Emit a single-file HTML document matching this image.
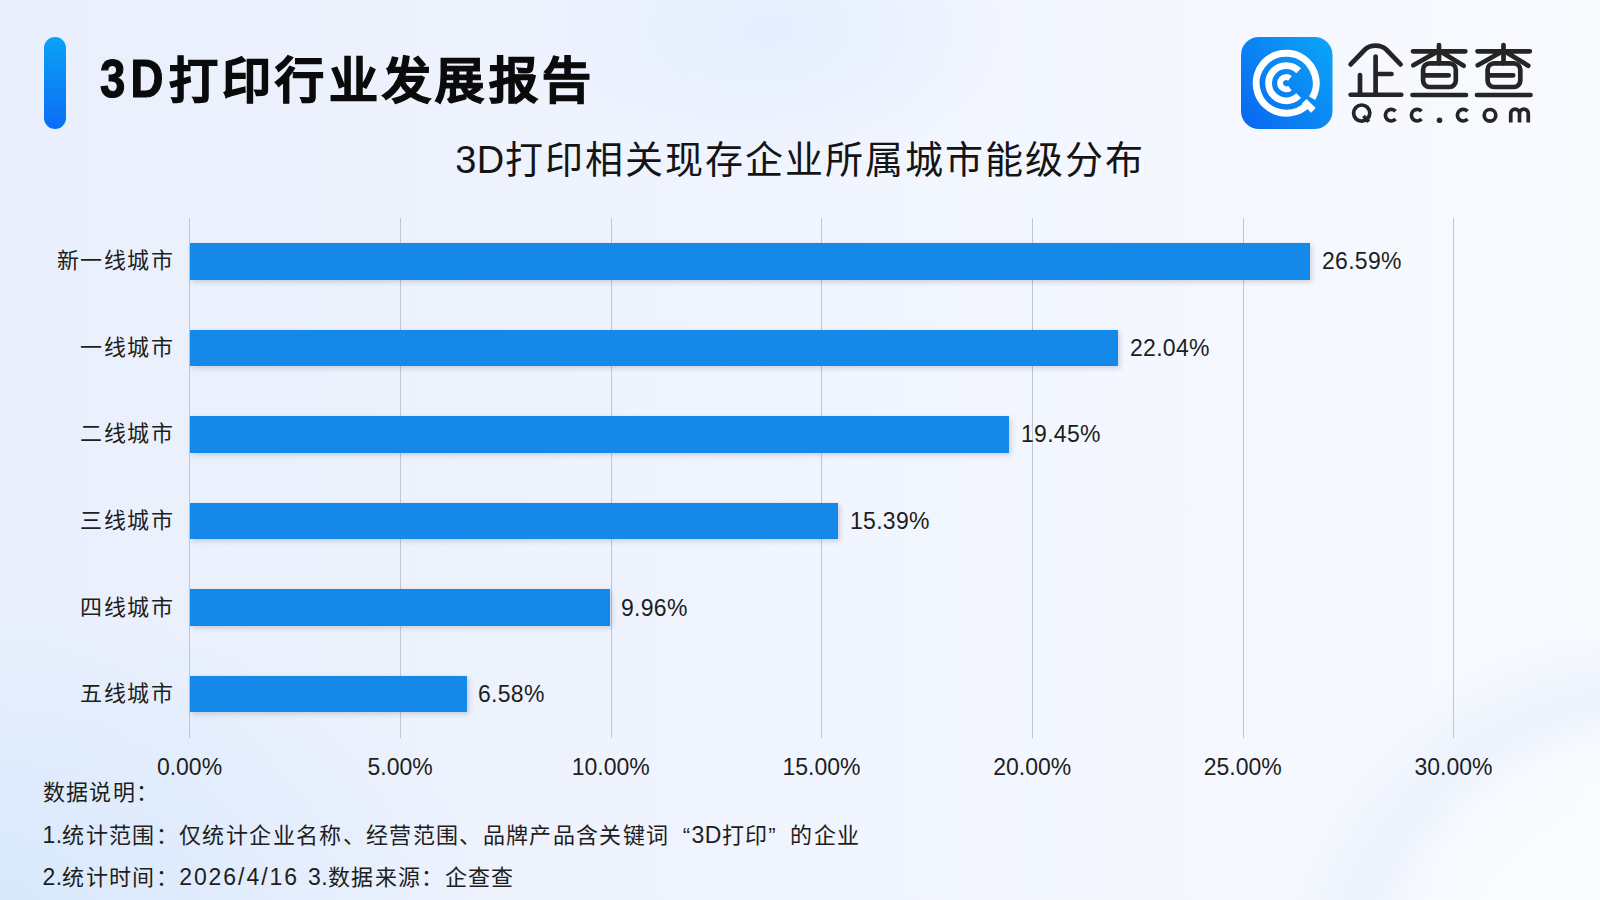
<!DOCTYPE html>
<html lang="zh-CN"><head><meta charset="utf-8">
<style>
*{margin:0;padding:0;box-sizing:border-box}
html,body{width:1600px;height:900px;overflow:hidden}
body{position:relative;font-family:"Liberation Sans",sans-serif;color:#1c1c1e;
background:
radial-gradient(ellipse 240px 140px at 770px 30px, rgba(226,237,254,.85), rgba(226,237,254,0)),
radial-gradient(ellipse 480px 300px at 0px 900px, rgba(214,232,252,.9), rgba(214,232,252,0)),
radial-gradient(circle at 1660px 1010px, rgba(255,255,255,.45) 180px, rgba(255,255,255,0) 270px, rgba(225,236,253,.5) 315px, rgba(225,236,253,0) 390px),
linear-gradient(90deg,#e9effc 0%,#edf2fd 30%,#f1f5fe 55%,#f5f8fe 80%,#f8fafe 100%);}
.abs{position:absolute;white-space:nowrap}
#pill{left:44px;top:37px;width:22px;height:92px;border-radius:11px;background:linear-gradient(180deg,#0aa2f6,#0a6ef5)}
#title{left:100px;top:49px;font-size:49px;line-height:64px;font-weight:bold;letter-spacing:4.4px;-webkit-text-stroke:1.2px #0b0b0b;color:#0b0b0b}
#sub{left:0px;width:1600px;top:134.5px;text-align:center;font-size:38px;letter-spacing:2px;line-height:50px;color:#141414}
.grid{position:absolute;top:218px;height:520px;width:1px;background:#c2c6ce}
.bar{position:absolute;left:190px;height:36.5px;background:#1589ea;box-shadow:2px 2px 5px rgba(40,55,90,.2)}
.cat{position:absolute;right:1425.6px;font-size:22px;letter-spacing:1.5px;line-height:30px;color:#1e1e20}
.val{position:absolute;font-size:23px;letter-spacing:.3px;line-height:30px;color:#1e1e20}
.ax{position:absolute;top:752px;width:120px;margin-left:-60px;text-align:center;font-size:23px;line-height:30px;color:#1e1e20}
.q1{display:inline-block;width:1em;text-align:right}.q2{display:inline-block;width:1em;text-align:left}
.note{position:absolute;left:42.5px;font-size:22px;letter-spacing:1.35px;line-height:30px;color:#1e1e20}
.d{font-size:23px;letter-spacing:.35px}
</style></head><body>
<div id="pill" class="abs"></div>
<div id="title" class="abs"><span style="display:inline-block;width:68.5px;font-size:53px;letter-spacing:6px;transform:scaleX(.86);transform-origin:0 0;vertical-align:top;position:relative;top:-2px">3D</span>打印行业发展报告</div>
<div id="sub" class="abs"><span style="letter-spacing:.5px">3D</span>打印相关现存企业所属城市能级分布</div>

<!-- grid -->
<div class="grid" style="left:189px"></div>
<div class="grid" style="left:400px"></div>
<div class="grid" style="left:611px"></div>
<div class="grid" style="left:821px"></div>
<div class="grid" style="left:1032px"></div>
<div class="grid" style="left:1243px"></div>
<div class="grid" style="left:1453px"></div>

<!-- bars -->
<div class="bar" style="top:243.3px;width:1120px"></div>
<div class="bar" style="top:329.8px;width:928px"></div>
<div class="bar" style="top:416.3px;width:819px"></div>
<div class="bar" style="top:502.8px;width:648px"></div>
<div class="bar" style="top:589.3px;width:420px"></div>
<div class="bar" style="top:675.8px;width:277px"></div>

<div class="cat" style="top:246px">新一线城市</div>
<div class="cat" style="top:333px">一线城市</div>
<div class="cat" style="top:419px">二线城市</div>
<div class="cat" style="top:506px">三线城市</div>
<div class="cat" style="top:593px">四线城市</div>
<div class="cat" style="top:679px">五线城市</div>

<div class="val" style="top:246px;left:1322px">26.59%</div>
<div class="val" style="top:333px;left:1130px">22.04%</div>
<div class="val" style="top:419px;left:1021px">19.45%</div>
<div class="val" style="top:506px;left:850px">15.39%</div>
<div class="val" style="top:593px;left:621px">9.96%</div>
<div class="val" style="top:679px;left:478px">6.58%</div>

<div class="ax" style="left:189.5px">0.00%</div>
<div class="ax" style="left:400.2px">5.00%</div>
<div class="ax" style="left:610.8px">10.00%</div>
<div class="ax" style="left:821.5px">15.00%</div>
<div class="ax" style="left:1032.2px">20.00%</div>
<div class="ax" style="left:1242.8px">25.00%</div>
<div class="ax" style="left:1453.5px">30.00%</div>

<div class="note" style="top:778px">数据说明：</div>
<div class="note" style="top:820px"><span class="d">1.</span>统计范围：仅统计企业名称、经营范围、品牌产品含关键词<span class="q1">“</span><span class="d">3D</span>打印<span class="q2">”</span>的企业</div>
<div class="note" style="top:861.5px"><span class="d">2.</span>统计时间：<span class="d" style="letter-spacing:1.95px">2026/4/16</span><span style="display:inline-block;width:9px"></span><span class="d">3.</span>数据来源：企查查</div>

<!-- logo -->
<svg class="abs" style="left:0;top:0" width="1600" height="140" viewBox="0 0 1600 140">
<defs>
<linearGradient id="lg" x1="0" y1="0.9" x2="1" y2="0.1">
<stop offset="0" stop-color="#0a68f1"/><stop offset="1" stop-color="#0aa4f7"/>
</linearGradient>
</defs>
<rect x="1241" y="37" width="91.5" height="92" rx="18" fill="url(#lg)"/>
<g fill="none" stroke="#fff" stroke-width="7" stroke-linecap="butt">
<path d="M1307.41,104.41 A30,30 0 1 1 1312.18,98.20"/>
<path d="M1304.23,101.23 L1313.42,110.42" stroke-width="6.5"/>
<path d="M1298.65,95.65 A17.6,17.6 0 1 1 1298.65,70.75" stroke-width="6.8"/>
<path d="M1289.96,88.01 A6.1,6.1 0 1 1 1289.96,78.39" stroke-width="6"/>
</g>
<g fill="none" stroke="#252525" stroke-width="4.7" stroke-linecap="round" stroke-linejoin="round">
<path d="M1350.6,64.4 L1365,49.5 Q1369,45.6 1375.6,45.6 Q1382,45.6 1386.2,49.5 L1400.6,64.4"/>
<path d="M1375.6,56.5 V94.5 M1375.6,74 H1391.5 M1360,75 V94.5 M1350.6,94.75 H1401.25"/>
<g id="cha">
<path d="M1413,51.3 H1465.3 M1439,45 V63.3 M1435,53 L1413.3,65.3 M1443,53 L1463.7,65.7 M1425,75.3 H1448.7 M1412.5,95 H1466"/>
<rect x="1423.1" y="63.3" width="32.7" height="23.7" rx="6.5"/>
</g>
<use href="#cha" transform="translate(64.5,0)"/>
</g>
<g fill="none" stroke="#252525" stroke-width="3.7">
<circle cx="1361.7" cy="113.1" r="8.1"/>
<path d="M1363.5,116 L1368.8,121.8"/>
<path d="M1395.51,119.08 A5.8,5.8 0 1 1 1395.51,111.32"/>
<path d="M1421.51,119.08 A5.8,5.8 0 1 1 1421.51,111.32"/>
<path d="M1467.51,119.08 A5.8,5.8 0 1 1 1467.51,111.32"/>
<circle cx="1490" cy="115.3" r="5.8"/>
<path d="M1510.75,122.6 V113.5 A4.375,4.375 0 0 1 1519.5,113.5 V122.6 M1519.5,113.5 A4.375,4.375 0 0 1 1528.25,113.5 V122.6"/>
</g>
<circle cx="1439.5" cy="120.3" r="2.8" fill="#252525"/>
</svg>
</body></html>
